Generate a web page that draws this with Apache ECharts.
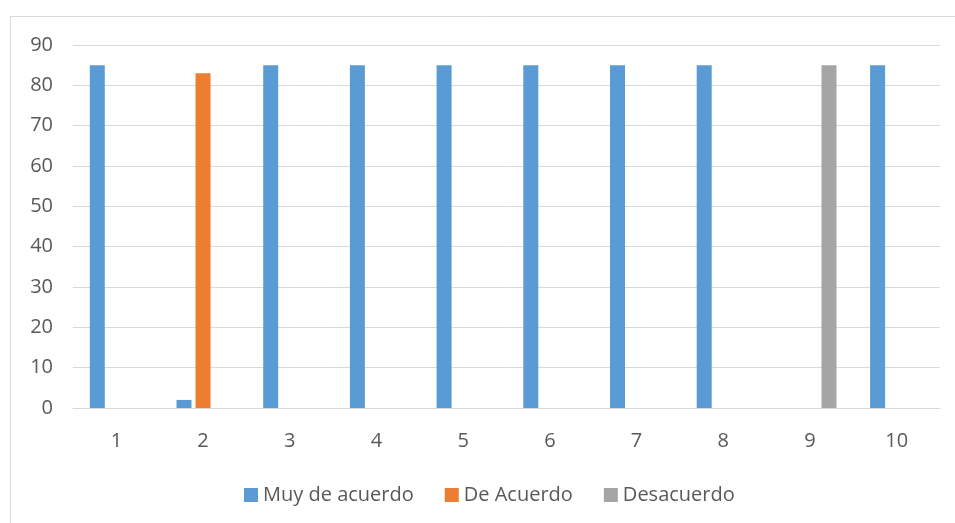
<!DOCTYPE html>
<html>
<head>
<meta charset="utf-8">
<script src="https://cdn.jsdelivr.net/npm/echarts@6/dist/echarts.min.js"></script>
<style>
  html, body { margin: 0; padding: 0; background: #fff; }
  #chart { width: 955px; height: 523px; }
</style>
</head>
<body>
<div id="chart"></div>
<script>
const categories = ["1", "2", "3", "4", "5", "6", "7", "8", "9", "10"];
const muyDeAcuerdo = [85, 2, 85, 85, 85, 85, 85, 85, 0, 85];
const deAcuerdo = [0, 83, 0, 0, 0, 0, 0, 0, 0, 0];
const desacuerdo = [0, 0, 0, 0, 0, 0, 0, 0, 85, 0];

const font = "'Open Sans', 'Liberation Sans', sans-serif";
const textColor = "#595959";

const myChart = echarts.init(document.getElementById("chart"));

const barSeries = (name, color, data) => ({
  name: name,
  type: "bar",
  barWidth: 15,
  barGap: "27%",
  itemStyle: { color: color },
  data: data,
});

myChart.setOption({
  animation: false,
  graphic: [
    {
      type: "rect",
      shape: { x: 10.5, y: 16.5, width: 960, height: 520 },
      style: { fill: "none", stroke: "#D9D9D9", lineWidth: 1 },
      silent: true,
    },
  ],
  grid: { left: 73, right: 15, top: 45, bottom: 115 },
  legend: {
    top: 480,
    left: 239,
    itemWidth: 14,
    itemHeight: 14,
    itemGap: 31,
    icon: "rect",
    textStyle: { color: textColor, fontSize: 20, fontFamily: font },
    data: ["Muy de acuerdo", "De Acuerdo", "Desacuerdo"],
  },
  xAxis: {
    type: "category",
    data: categories,
    axisTick: { show: false },
    axisLine: { lineStyle: { color: "#D9D9D9", width: 1 } },
    axisLabel: { color: textColor, fontSize: 20, fontFamily: font, margin: 23 },
  },
  yAxis: {
    type: "value",
    min: 0,
    max: 90,
    interval: 10,
    axisLine: { show: false },
    axisTick: { show: false },
    axisLabel: { color: textColor, fontSize: 20, fontFamily: font, margin: 20 },
    splitLine: { lineStyle: { color: "#D9D9D9", width: 1 } },
  },
  series: [
    barSeries("Muy de acuerdo", "#5B9BD5", muyDeAcuerdo),
    barSeries("De Acuerdo", "#ED7D31", deAcuerdo),
    barSeries("Desacuerdo", "#A5A5A5", desacuerdo),
  ],
});
</script>
</body>
</html>
